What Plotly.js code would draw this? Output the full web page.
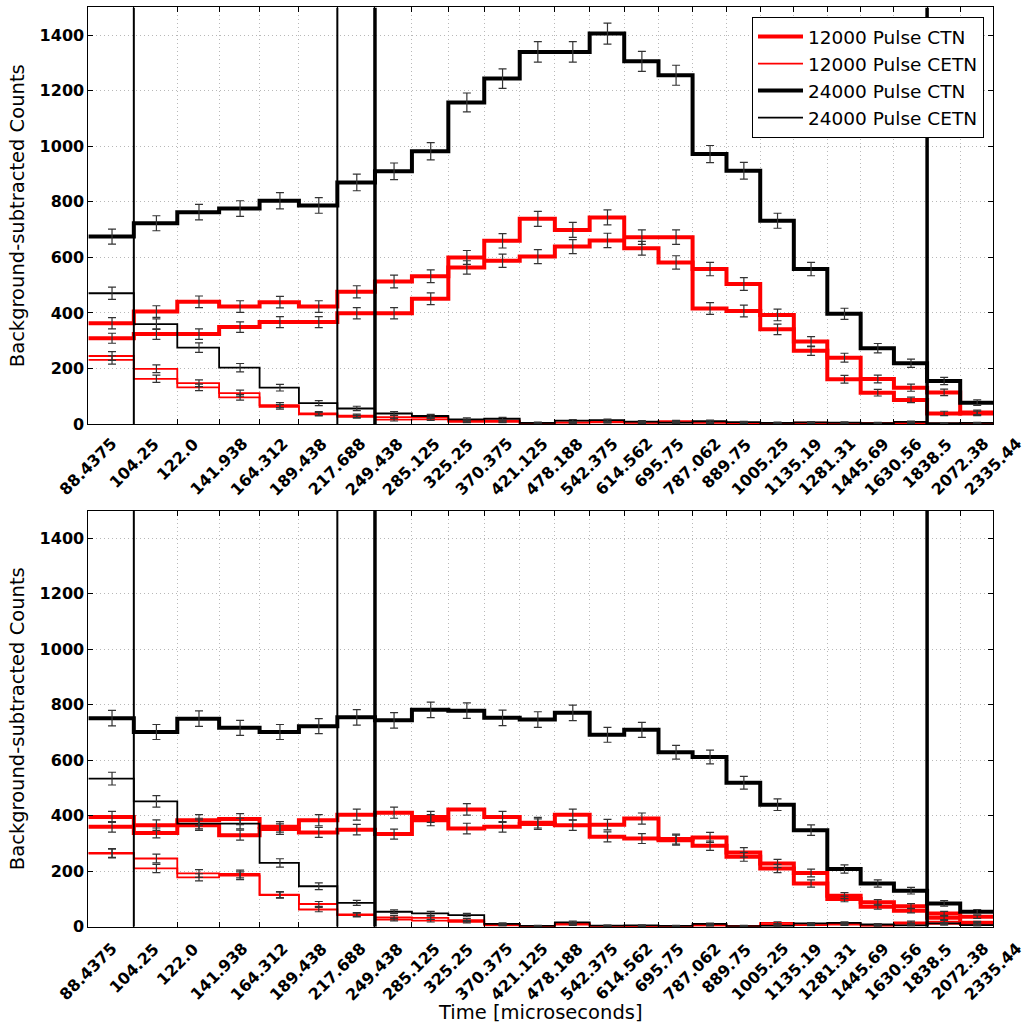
<!DOCTYPE html>
<html>
<head>
<meta charset="utf-8">
<script src="https://cdn.plot.ly/plotly-3.0.1.min.js"></script>
<style>
  html, body { margin: 0; padding: 0; background: #ffffff; }
  #chart { width: 1025px; height: 1024px; }
</style>
</head>
<body>
<div id="chart"></div>
<script>
// Time bin edges (microseconds) and their tick labels
const binEdges = [88.4375, 104.25, 122.0, 141.938, 164.312, 189.438, 217.688, 249.438,
  285.125, 325.25, 370.375, 421.125, 478.188, 542.375, 614.562, 695.75, 787.062,
  889.75, 1005.25, 1135.19, 1281.31, 1445.69, 1630.56, 1838.5, 2072.38, 2335.44];
const edgeLabels = ["88.4375", "104.25", "122.0", "141.938", "164.312", "189.438",
  "217.688", "249.438", "285.125", "325.25", "370.375", "421.125", "478.188",
  "542.375", "614.562", "695.75", "787.062", "889.75", "1005.25", "1135.19",
  "1281.31", "1445.69", "1630.56", "1838.5", "2072.38", "2335.44"];

// Window boundaries marked with vertical lines
const thinMarkers = [104.25, 217.688];
const thickMarkers = [249.438, 1838.5];

const yTicks = [0, 200, 400, 600, 800, 1000, 1200, 1400];

// ---- Upper panel ----
const top12CtnA  = [363, 405, 440, 423, 439, 423, 476, 513, 532, 600, 660, 739, 699, 744, 673, 673, 558, 504, 393, 297, 239, 162, 131, 114, 38];
const top12CtnAErr = [20, 21, 21, 21, 21, 21, 22, 23, 23, 25, 26, 27, 27, 27, 26, 26, 24, 23, 21, 18, 16, 14, 13, 12, 8];
const top12CtnB  = [309, 324, 324, 349, 367, 367, 399, 399, 451, 564, 588, 603, 639, 661, 633, 582, 416, 407, 341, 264, 161, 113, 87, 38, 42];
const top12CtnBErr = [18, 19, 19, 19, 20, 20, 20, 20, 21, 24, 24, 25, 25, 26, 25, 24, 21, 21, 19, 17, 14, 12, 10, 8, 8];
const top12CetnA = [245, 199, 147, 111, 68, 38, 30, 25, 24, 11, 12, 2, 6, 8, 6, 10, 8, 4, 3, 5, 3, 4, 6, 2, 3];
const top12CetnAErr = [16, 14, 12, 11, 9, 7, 6, 6, 5, 4, 4, 2, 3, 3, 3, 3, 3, 2, 2, 2, 2, 2, 3, 2, 2];
const top12CetnB = [231, 163, 132, 96, 62, 35, 26, 16, 17, 8, 8, 0, 5, 6, 4, 6, 4, 2, 1, 3, 1, 2, 3, 0, 1];
const top12CetnBErr = [15, 13, 12, 10, 8, 6, 5, 5, 4, 3, 3, 1, 2, 2, 2, 2, 2, 1, 1, 2, 1, 1, 2, 1, 1];
const top24Ctn   = [675, 723, 763, 776, 804, 787, 870, 910, 982, 1158, 1244, 1340, 1340, 1406, 1306, 1256, 972, 912, 732, 558, 397, 273, 219, 155, 77];
const top24CtnErr = [27, 27, 28, 28, 29, 28, 30, 30, 31, 34, 35, 37, 37, 38, 36, 36, 31, 30, 27, 24, 20, 17, 15, 13, 10];
const top24Cetn  = [471, 360, 275, 203, 131, 75, 56, 38, 29, 17, 19, 4, 12, 14, 9, 5, 10, 7, 4, 6, 5, 3, 8, 3, 4];
const top24CetnErr = [22, 19, 17, 15, 12, 9, 8, 7, 6, 5, 5, 3, 4, 4, 3, 3, 4, 3, 3, 3, 3, 2, 3, 2, 2];

// ---- Lower panel ----
const bot12CtnA  = [396, 366, 384, 388, 360, 384, 404, 411, 396, 423, 396, 375, 404, 368, 390, 316, 322, 268, 228, 194, 112, 88, 74, 48, 36];
const bot12CtnAErr = [20, 19, 20, 20, 19, 20, 20, 20, 20, 21, 20, 19, 20, 19, 20, 18, 18, 17, 15, 14, 11, 10, 9, 7, 6];
const bot12CtnB  = [360, 338, 366, 330, 352, 340, 350, 334, 384, 354, 360, 370, 366, 324, 318, 312, 292, 252, 210, 156, 100, 72, 58, 32, 14];
const bot12CtnBErr = [19, 18, 19, 18, 19, 18, 19, 18, 20, 19, 19, 19, 19, 18, 18, 18, 17, 16, 15, 13, 10, 9, 8, 6, 5];
const bot12CetnA = [266, 246, 192, 190, 116, 82, 44, 34, 32, 24, 8, 2, 12, 3, 2, 2, 7, 3, 14, 10, 12, 6, 16, 18, 12];
const bot12CetnAErr = [16, 16, 14, 14, 11, 9, 7, 6, 6, 5, 3, 1, 3, 2, 1, 1, 3, 2, 4, 3, 3, 2, 4, 5, 4];
const bot12CetnB = [264, 210, 178, 184, 114, 62, 42, 26, 22, 18, 5, 0, 8, 1, 1, 0, 4, 1, 8, 6, 8, 3, 10, 10, 6];
const bot12CetnBErr = [16, 15, 13, 14, 11, 8, 7, 5, 5, 4, 2, 0, 3, 1, 1, 0, 2, 1, 3, 2, 3, 2, 3, 4, 3];
const bot24Ctn   = [752, 702, 750, 717, 702, 723, 755, 744, 782, 779, 753, 747, 771, 692, 710, 629, 612, 519, 440, 348, 208, 156, 130, 84, 54];
const bot24CtnErr = [28, 27, 28, 27, 27, 27, 28, 28, 28, 28, 28, 28, 28, 27, 27, 25, 25, 23, 21, 19, 15, 13, 12, 10, 8];
const bot24Cetn  = [534, 452, 372, 372, 230, 146, 86, 54, 48, 42, 10, 3, 16, 4, 5, 3, 10, 2, 3, 12, 14, 8, 5, 12, 6];
const bot24CetnErr = [23, 21, 19, 19, 15, 12, 9, 7, 7, 6, 4, 2, 4, 2, 2, 2, 3, 1, 2, 3, 4, 3, 2, 3, 2];

const FONT = 'DejaVu Sans, Verdana, sans-serif';
const RED = '#ff0000';
const BLACK = '#000000';
const ERR_COLOR = '#333333';
const GRID = '#b8b8b8';

// bin centres for the error bars
const binCentres = binEdges.slice(0, -1).map((e, i) => (e + binEdges[i + 1]) / 2);

function stepTrace(values, color, width, axes, name, showLegend) {
  return {
    type: 'scatter', mode: 'lines',
    x: binEdges, y: values.concat([values[values.length - 1]]),
    line: { shape: 'hv', color: color, width: width },
    xaxis: axes[0], yaxis: axes[1],
    name: name, legendgroup: name, showlegend: showLegend,
    hoverinfo: 'skip'
  };
}

function errTrace(values, errs, axes) {
  return {
    type: 'scatter', mode: 'markers',
    x: binCentres, y: values,
    marker: { size: 1, color: 'rgba(0,0,0,0)' },
    error_y: { type: 'data', array: errs, visible: true, color: ERR_COLOR, thickness: 1.2, width: 4 },
    xaxis: axes[0], yaxis: axes[1], showlegend: false, hoverinfo: 'skip'
  };
}

function markerTraces(axes) {
  const out = [];
  thinMarkers.forEach(v => out.push({
    type: 'scatter', mode: 'lines', x: [v, v], y: [0, 1500],
    line: { color: BLACK, width: 2 }, xaxis: axes[0], yaxis: axes[1],
    showlegend: false, hoverinfo: 'skip'
  }));
  thickMarkers.forEach(v => out.push({
    type: 'scatter', mode: 'lines', x: [v, v], y: [0, 1500],
    line: { color: BLACK, width: 3.5 }, xaxis: axes[0], yaxis: axes[1],
    showlegend: false, hoverinfo: 'skip'
  }));
  return out;
}

function panel(d, axes, withLegend) {
  return [
    stepTrace(d.ctnA, RED, 4, axes, '12000 Pulse CTN', withLegend),
    stepTrace(d.ctnB, RED, 4, axes, '12000 Pulse CTN', false),
    stepTrace(d.cetnA, RED, 1.8, axes, '12000 Pulse CETN', withLegend),
    stepTrace(d.cetnB, RED, 1.8, axes, '12000 Pulse CETN', false),
    stepTrace(d.ctn24, BLACK, 4, axes, '24000 Pulse CTN', withLegend),
    stepTrace(d.cetn24, BLACK, 1.8, axes, '24000 Pulse CETN', withLegend),
    errTrace(d.ctnA, d.ctnAErr, axes),
    errTrace(d.ctnB, d.ctnBErr, axes),
    errTrace(d.cetnA, d.cetnAErr, axes),
    errTrace(d.cetnB, d.cetnBErr, axes),
    errTrace(d.ctn24, d.ctn24Err, axes),
    errTrace(d.cetn24, d.cetn24Err, axes)
  ].concat(markerTraces(axes));
}

const traces = panel({
  ctnA: top12CtnA, ctnAErr: top12CtnAErr, ctnB: top12CtnB, ctnBErr: top12CtnBErr,
  cetnA: top12CetnA, cetnAErr: top12CetnAErr, cetnB: top12CetnB, cetnBErr: top12CetnBErr,
  ctn24: top24Ctn, ctn24Err: top24CtnErr, cetn24: top24Cetn, cetn24Err: top24CetnErr
}, ['x', 'y'], true).concat(panel({
  ctnA: bot12CtnA, ctnAErr: bot12CtnAErr, ctnB: bot12CtnB, ctnBErr: bot12CtnBErr,
  cetnA: bot12CetnA, cetnAErr: bot12CetnAErr, cetnB: bot12CetnB, cetnBErr: bot12CetnBErr,
  ctn24: bot24Ctn, ctn24Err: bot24CtnErr, cetn24: bot24Cetn, cetn24Err: bot24CetnErr
}, ['x2', 'y2'], false));

const xRange = [Math.log10(binEdges[0]), Math.log10(binEdges[binEdges.length - 1])];

function xAxis(anchor, extra) {
  return Object.assign({
    type: 'log', range: xRange, domain: [0.0862, 0.969], anchor: anchor,
    tickmode: 'array', tickvals: binEdges, showticklabels: false,
    ticks: 'inside', ticklen: 5, tickcolor: BLACK, mirror: 'ticks',
    showline: true, linecolor: BLACK, linewidth: 1,
    showgrid: true, gridcolor: GRID, griddash: '1px,3px', gridwidth: 1,
    zeroline: false
  }, extra || {});
}

function yAxis(anchor, domain) {
  return {
    range: [0, 1500], domain: domain, anchor: anchor,
    tickmode: 'array', tickvals: yTicks,
    tickfont: { family: FONT, size: 16, color: BLACK, weight: 'bold' },
    ticks: 'inside', ticklen: 5, tickcolor: BLACK, mirror: 'ticks',
    showline: true, linecolor: BLACK, linewidth: 1,
    showgrid: true, gridcolor: GRID, griddash: '1px,3px', gridwidth: 1,
    zeroline: false,
    title: { text: 'Background-subtracted Counts', font: { family: FONT, size: 19.5, color: BLACK }, standoff: 9 }
  };
}

// rotated tick labels centred under each bin edge
const annotations = [];
[['x', 0.5771], ['x2', 0.0840]].forEach(([xref, ypos]) => {
  binEdges.forEach((e, i) => annotations.push({
    xref: xref, yref: 'paper', x: Math.log10(e), y: ypos,
    xanchor: 'center', yanchor: 'top', textangle: -45, showarrow: false,
    text: edgeLabels[i], borderpad: 0,
    font: { family: FONT, size: 16, color: BLACK, weight: 'bold' }
  }));
});

const layout = {
  width: 1025, height: 1024,
  margin: { l: 0, r: 0, t: 0, b: 0 },
  paper_bgcolor: '#ffffff', plot_bgcolor: '#ffffff',
  font: { family: FONT, color: BLACK },
  showlegend: true,
  legend: {
    x: 0.9600, xanchor: 'right', y: 0.9834, yanchor: 'top',
    bgcolor: '#ffffff', bordercolor: BLACK, borderwidth: 1,
    font: { family: FONT, size: 18.5, color: BLACK },
    itemwidth: 45,
    tracegroupgap: 0
  },
  xaxis: xAxis('y'),
  yaxis: yAxis('x', [0.5859, 0.9927]),
  xaxis2: xAxis('y2', {
    title: { text: 'Time [microseconds]', font: { family: FONT, size: 19.5, color: BLACK }, standoff: 78 }
  }),
  yaxis2: yAxis('x2', [0.0950, 0.5013]),
  annotations: annotations
};

Plotly.newPlot('chart', traces, layout, { displayModeBar: false, staticPlot: true });
</script>
</body>
</html>
